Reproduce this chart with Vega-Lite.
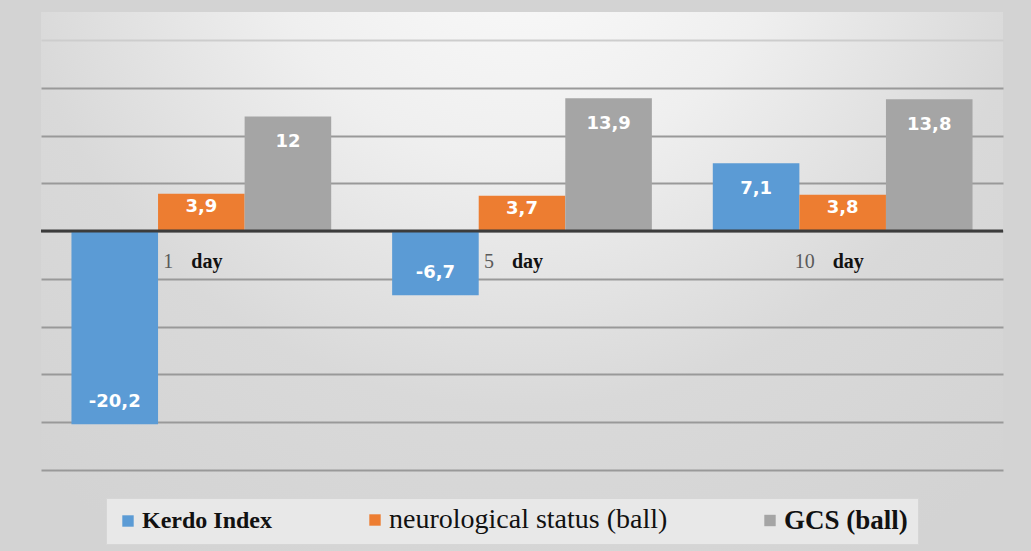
{
  "$schema": "https://vega.github.io/schema/vega-lite/v6.json",
  "width": 962,
  "height": 539,
  "autosize": "none",
  "padding": {"left": 41, "top": 12, "right": 28, "bottom": 0},
  "background": "#d3d3d3",
  "config": {
    "locale": {"number": {"decimal": ",", "thousands": " ", "grouping": [3], "currency": ["", ""], "minus": "-"}},
    "view": {
      "stroke": null,
      "fill": {
        "gradient": "radial",
        "x1": 0.5, "y1": 0.1, "r1": 0,
        "x2": 0.5, "y2": 0.1, "r2": 0.78,
        "stops": [
          {"offset": 0, "color": "#fcfcfc"},
          {"offset": 0.35, "color": "#efefef"},
          {"offset": 0.68, "color": "#d9d9d9"},
          {"offset": 1, "color": "#d3d3d3"}
        ]
      }
    }
  },
  "data": {
    "values": [
      {"day": "1 day", "series": "Kerdo Index", "value": -20.2},
      {"day": "1 day", "series": "neurological status (ball)", "value": 3.9},
      {"day": "1 day", "series": "GCS (ball)", "value": 12},
      {"day": "5 day", "series": "Kerdo Index", "value": -6.7},
      {"day": "5 day", "series": "neurological status (ball)", "value": 3.7},
      {"day": "5 day", "series": "GCS (ball)", "value": 13.9},
      {"day": "10 day", "series": "Kerdo Index", "value": 7.1},
      {"day": "10 day", "series": "neurological status (ball)", "value": 3.8},
      {"day": "10 day", "series": "GCS (ball)", "value": 13.8}
    ]
  },
  "layer": [
    {
      "mark": {"type": "bar"},
      "encoding": {
        "x": {
          "field": "day", "type": "nominal", "sort": ["1 day", "5 day", "10 day"],
          "scale": {"paddingInner": 0.19, "paddingOuter": 0.095},
          "axis": null
        },
        "xOffset": {
          "field": "series", "type": "nominal",
          "sort": ["Kerdo Index", "neurological status (ball)", "GCS (ball)"],
          "scale": {"paddingInner": 0, "paddingOuter": 0}
        },
        "y": {
          "field": "value", "type": "quantitative",
          "scale": {"domain": [-33.477, 22.93], "nice": false, "zero": false},
          "axis": {
            "values": [-25, -20, -15, -10, -5, 0, 5, 10, 15, 20],
            "grid": true, "domain": false, "ticks": false, "labels": false, "title": null,
            "gridColor": {"condition": {"test": "datum.value == 20", "value": "#cdcdcd"}, "value": "#999999"},
            "gridWidth": 2
          }
        },
        "color": {
          "field": "series", "type": "nominal",
          "scale": {
            "domain": ["Kerdo Index", "neurological status (ball)", "GCS (ball)"],
            "range": ["#5b9bd5", "#ed7d31", "#a5a5a5"]
          },
          "legend": {
            "title": null,
            "orient": "none",
            "direction": "horizontal",
            "legendX": 65,
            "legendY": 486,
            "padding": 10,
            "fillColor": "#e8e8e8",
            "strokeColor": "#d6d6d6",
            "symbolType": "square",
            "symbolSize": 130,
            "symbolStrokeWidth": 0,
            "symbolOpacity": 1,
            "labelFont": "Liberation Serif",
            "labelFontSize": {"expr": "datum.value == 'neurological status (ball)' ? 28 : datum.value == 'GCS (ball)' ? 27 : 24"},
            "labelFontWeight": {"expr": "datum.value == 'neurological status (ball)' ? 400 : 700"},
            "labelColor": "#111111",
            "labelOffset": 2,
            "labelLimit": 500,
            "columnPadding": 90
          }
        }
      }
    },
    {
      "data": {"values": [{}]},
      "mark": {"type": "rule", "color": "#3c3c3c", "strokeWidth": 3},
      "encoding": {"y": {"datum": 0, "type": "quantitative"}}
    },
    {
      "transform": [{"filter": "datum.value > 0 && datum.series != 'neurological status (ball)'"}],
      "mark": {"type": "text", "baseline": "middle", "dy": 26, "font": "DejaVu Sans", "fontWeight": "bold", "fontSize": 18, "color": "#ffffff"},
      "encoding": {
        "x": {"field": "day", "type": "nominal", "sort": ["1 day", "5 day", "10 day"]},
        "xOffset": {"field": "series", "type": "nominal", "sort": ["Kerdo Index", "neurological status (ball)", "GCS (ball)"]},
        "y": {"field": "value", "type": "quantitative"},
        "text": {"field": "value", "type": "quantitative", "format": ".1~f"}
      }
    },
    {
      "transform": [{"filter": "datum.series == 'neurological status (ball)'"}],
      "mark": {"type": "text", "baseline": "middle", "dy": 13, "font": "DejaVu Sans", "fontWeight": "bold", "fontSize": 18, "color": "#ffffff"},
      "encoding": {
        "x": {"field": "day", "type": "nominal", "sort": ["1 day", "5 day", "10 day"]},
        "xOffset": {"field": "series", "type": "nominal", "sort": ["Kerdo Index", "neurological status (ball)", "GCS (ball)"]},
        "y": {"field": "value", "type": "quantitative"},
        "text": {"field": "value", "type": "quantitative", "format": ".1~f"}
      }
    },
    {
      "transform": [{"filter": "datum.value < 0"}],
      "mark": {"type": "text", "baseline": "middle", "dy": -22, "font": "DejaVu Sans", "fontWeight": "bold", "fontSize": 18, "color": "#ffffff"},
      "encoding": {
        "x": {"field": "day", "type": "nominal", "sort": ["1 day", "5 day", "10 day"]},
        "xOffset": {"field": "series", "type": "nominal", "sort": ["Kerdo Index", "neurological status (ball)", "GCS (ball)"]},
        "y": {"field": "value", "type": "quantitative"},
        "text": {"field": "value", "type": "quantitative", "format": ".1~f"}
      }
    },
    {
      "transform": [
        {"filter": "datum.series == 'GCS (ball)'"},
        {"calculate": "split(datum.day, ' ')[0]", "as": "num"}
      ],
      "mark": {"type": "text", "align": "right", "baseline": "middle", "dx": -28, "dy": 31, "font": "Liberation Serif", "fontSize": 20, "color": "#5a5a5a"},
      "encoding": {
        "x": {"field": "day", "type": "nominal", "sort": ["1 day", "5 day", "10 day"]},
        "y": {"datum": 0, "type": "quantitative"},
        "text": {"field": "num"}
      }
    },
    {
      "transform": [
        {"filter": "datum.series == 'GCS (ball)'"},
        {"calculate": "split(datum.day, ' ')[1]", "as": "unit"}
      ],
      "mark": {"type": "text", "align": "left", "baseline": "middle", "dx": -10, "dy": 31, "font": "Liberation Serif", "fontWeight": "bold", "fontSize": 20, "color": "#111111"},
      "encoding": {
        "x": {"field": "day", "type": "nominal", "sort": ["1 day", "5 day", "10 day"]},
        "y": {"datum": 0, "type": "quantitative"},
        "text": {"field": "unit"}
      }
    }
  ]
}
